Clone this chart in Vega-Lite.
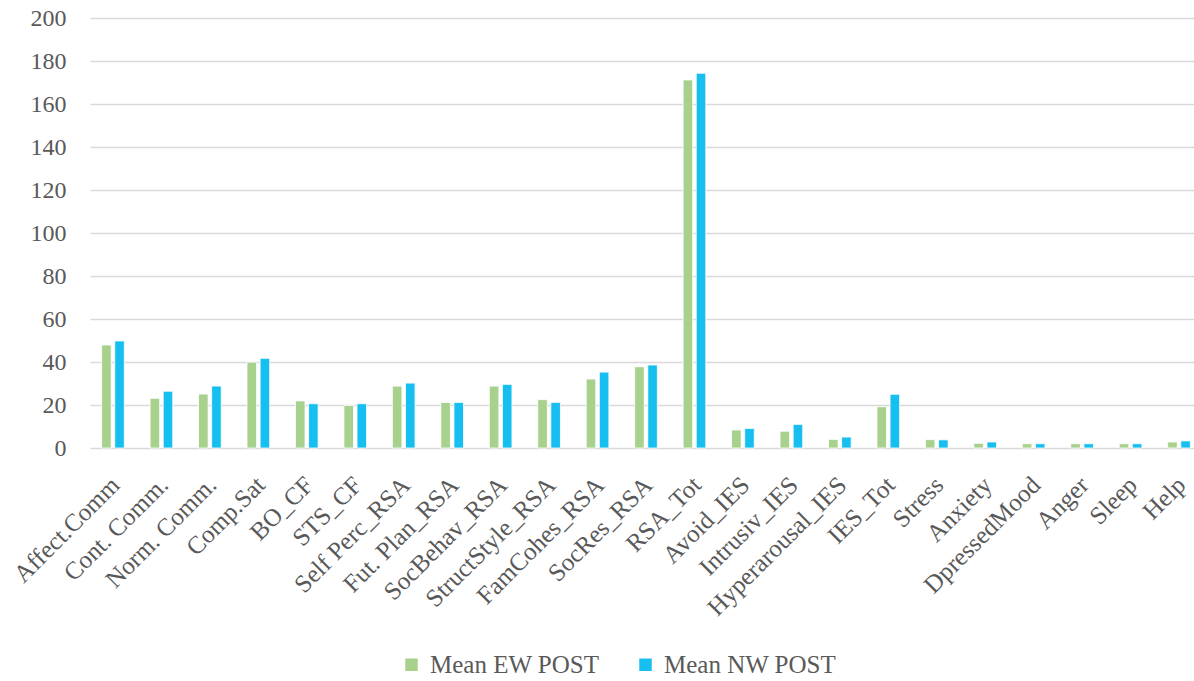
{
  "$schema": "https://vega.github.io/schema/vega-lite/v6.json",
  "width": 1112,
  "height": 430,
  "autosize": {"type": "none"},
  "padding": {"left": 90, "top": 18, "right": -8, "bottom": 233},
  "background": "white",
  "config": {"view": {"stroke": null}, "font": "Liberation Serif"},
  "data": {"values": [
    {"cat": "Affect.Comm", "series": "Mean EW POST", "v": 47.9},
    {"cat": "Affect.Comm", "series": "Mean NW POST", "v": 49.8},
    {"cat": "Cont. Comm.", "series": "Mean EW POST", "v": 23.1},
    {"cat": "Cont. Comm.", "series": "Mean NW POST", "v": 26.4},
    {"cat": "Norm. Comm.", "series": "Mean EW POST", "v": 25.1},
    {"cat": "Norm. Comm.", "series": "Mean NW POST", "v": 28.8},
    {"cat": "Comp.Sat", "series": "Mean EW POST", "v": 39.9},
    {"cat": "Comp.Sat", "series": "Mean NW POST", "v": 41.7},
    {"cat": "BO_CF", "series": "Mean EW POST", "v": 21.9},
    {"cat": "BO_CF", "series": "Mean NW POST", "v": 20.6},
    {"cat": "STS_CF", "series": "Mean EW POST", "v": 19.8},
    {"cat": "STS_CF", "series": "Mean NW POST", "v": 20.6},
    {"cat": "Self Perc_RSA", "series": "Mean EW POST", "v": 28.8},
    {"cat": "Self Perc_RSA", "series": "Mean NW POST", "v": 30.2},
    {"cat": "Fut. Plan_RSA", "series": "Mean EW POST", "v": 21.2},
    {"cat": "Fut. Plan_RSA", "series": "Mean NW POST", "v": 21.2},
    {"cat": "SocBehav_RSA", "series": "Mean EW POST", "v": 28.8},
    {"cat": "SocBehav_RSA", "series": "Mean NW POST", "v": 29.6},
    {"cat": "StructStyle_RSA", "series": "Mean EW POST", "v": 22.5},
    {"cat": "StructStyle_RSA", "series": "Mean NW POST", "v": 21.2},
    {"cat": "FamCohes_RSA", "series": "Mean EW POST", "v": 32.1},
    {"cat": "FamCohes_RSA", "series": "Mean NW POST", "v": 35.3},
    {"cat": "SocRes_RSA", "series": "Mean EW POST", "v": 37.8},
    {"cat": "SocRes_RSA", "series": "Mean NW POST", "v": 38.6},
    {"cat": "RSA_Tot", "series": "Mean EW POST", "v": 171.2},
    {"cat": "RSA_Tot", "series": "Mean NW POST", "v": 174.3},
    {"cat": "Avoid_IES", "series": "Mean EW POST", "v": 8.4},
    {"cat": "Avoid_IES", "series": "Mean NW POST", "v": 9.1},
    {"cat": "Intrusiv_IES", "series": "Mean EW POST", "v": 7.8},
    {"cat": "Intrusiv_IES", "series": "Mean NW POST", "v": 11.0},
    {"cat": "Hyperarousal_IES", "series": "Mean EW POST", "v": 4.0},
    {"cat": "Hyperarousal_IES", "series": "Mean NW POST", "v": 5.1},
    {"cat": "IES_Tot", "series": "Mean EW POST", "v": 19.2},
    {"cat": "IES_Tot", "series": "Mean NW POST", "v": 25.0},
    {"cat": "Stress", "series": "Mean EW POST", "v": 3.9},
    {"cat": "Stress", "series": "Mean NW POST", "v": 3.8},
    {"cat": "Anxiety", "series": "Mean EW POST", "v": 2.2},
    {"cat": "Anxiety", "series": "Mean NW POST", "v": 2.8},
    {"cat": "DpressedMood", "series": "Mean EW POST", "v": 2.0},
    {"cat": "DpressedMood", "series": "Mean NW POST", "v": 2.0},
    {"cat": "Anger", "series": "Mean EW POST", "v": 2.0},
    {"cat": "Anger", "series": "Mean NW POST", "v": 2.0},
    {"cat": "Sleep", "series": "Mean EW POST", "v": 2.0},
    {"cat": "Sleep", "series": "Mean NW POST", "v": 2.0},
    {"cat": "Help", "series": "Mean EW POST", "v": 2.8},
    {"cat": "Help", "series": "Mean NW POST", "v": 3.3}
  ]},
  "mark": {"type": "bar", "stroke": "white", "strokeWidth": 0.8},
  "encoding": {
    "x": {
      "field": "cat", "type": "nominal", "sort": null,
      "scale": {"paddingInner": 0.532, "paddingOuter": 0.24},
      "axis": {
        "title": null, "labelAngle": -45, "labelFontSize": 25, "labelColor": "#595959",
        "labelFont": "Liberation Serif", "ticks": false, "domain": false, "labelPadding": 24,
        "labelOffset": -6,
        "labelOverlap": false, "labelBound": false, "labelLimit": 400
      }
    },
    "xOffset": {"field": "series", "type": "nominal", "scale": {"paddingInner": 0.27}},
    "y": {
      "field": "v", "type": "quantitative",
      "scale": {"domain": [0, 200], "nice": false},
      "axis": {
        "title": null, "values": [0, 20, 40, 60, 80, 100, 120, 140, 160, 180, 200],
        "labelFontSize": 24, "labelColor": "#595959", "labelFont": "Liberation Serif",
        "ticks": false, "domain": false, "labelPadding": 24,
        "gridColor": "#d9d9d9", "gridWidth": 1.5
      }
    },
    "color": {
      "field": "series", "type": "nominal",
      "scale": {"domain": ["Mean EW POST", "Mean NW POST"], "range": ["#a9d18e", "#17bff0"]},
      "legend": {
        "title": null, "orient": "none", "direction": "horizontal",
        "legendX": 309, "legendY": 634,
        "symbolType": "square", "symbolSize": 156, "symbolStrokeWidth": 0,
        "labelFontSize": 25, "labelColor": "#595959", "labelFont": "Liberation Serif",
        "columnPadding": 33, "labelOffset": 6, "labelLimit": 400
      }
    }
  }
}
